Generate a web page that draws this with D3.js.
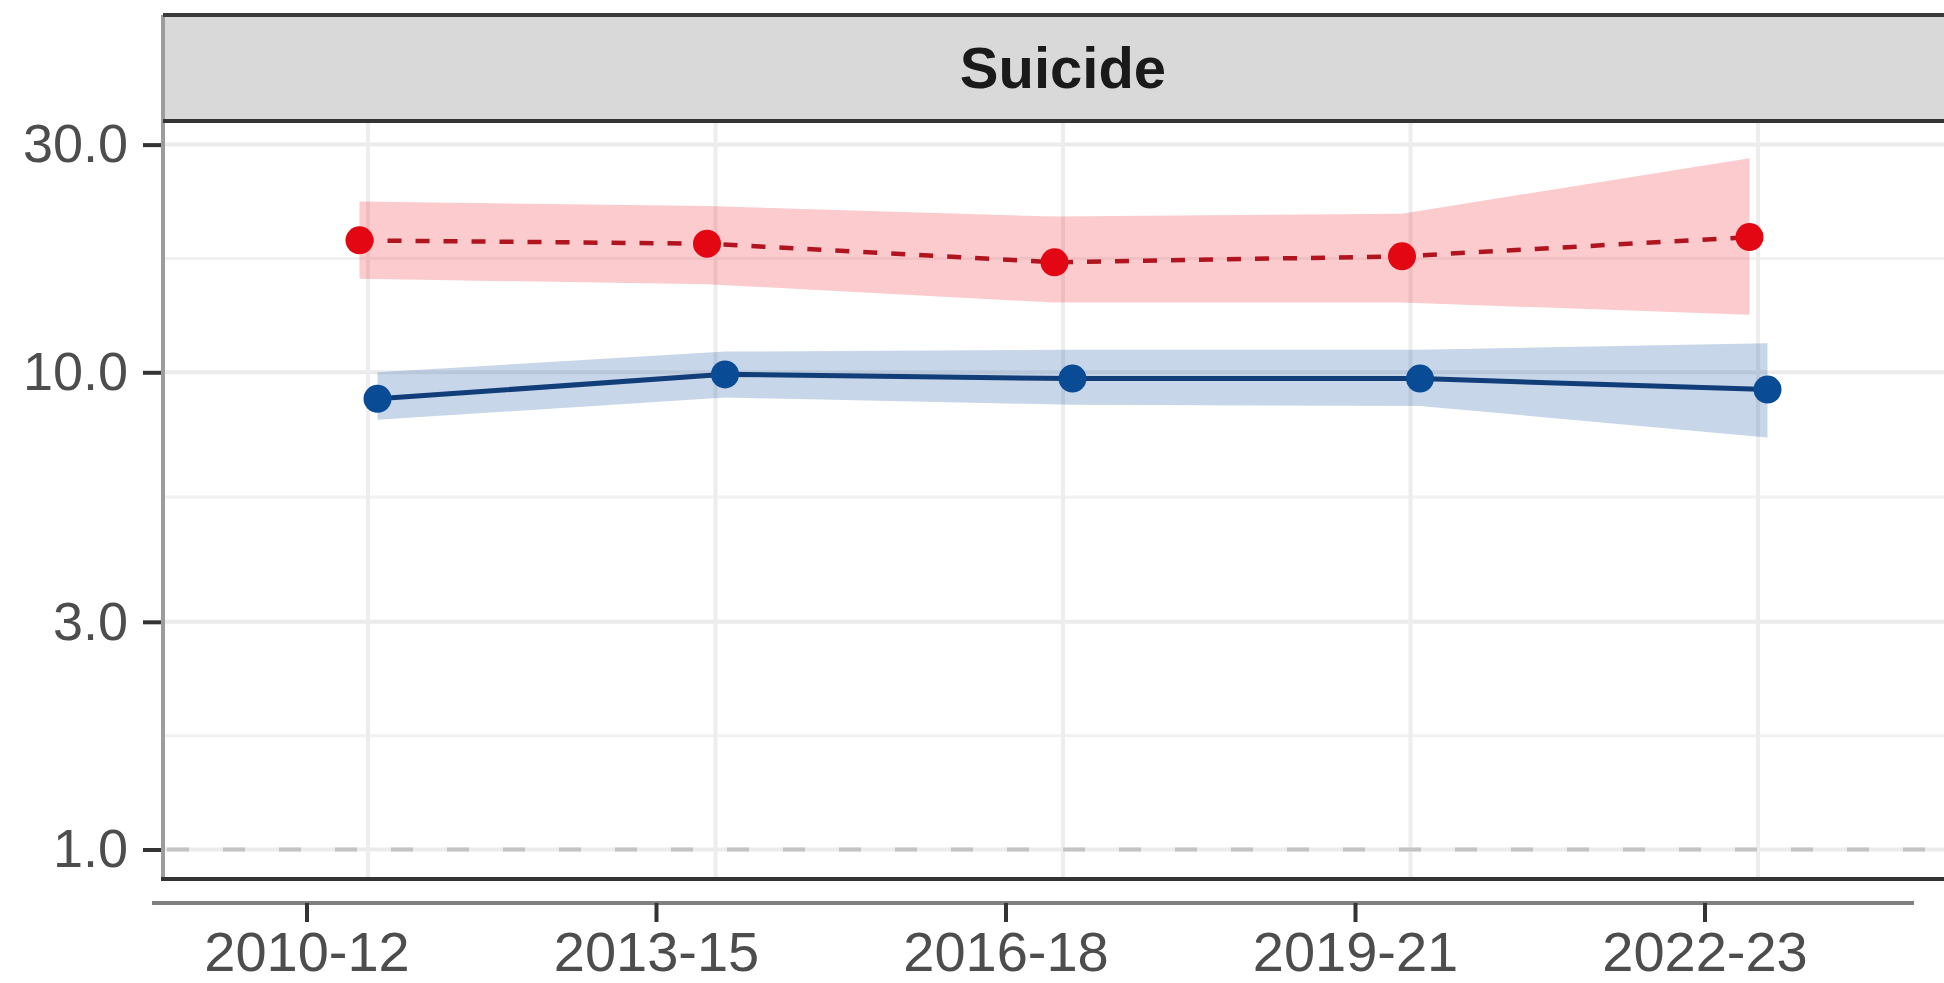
<!DOCTYPE html>
<html><head><meta charset="utf-8">
<script src="https://cdn.jsdelivr.net/npm/d3@7"></script>
<style>html,body{margin:0;padding:0;background:#fff;overflow:hidden}</style>
</head><body><svg id="chart" width="1944" height="983"></svg>
<script>
// ---- data ----
const periods = ["2010-12", "2013-15", "2016-18", "2019-21", "2022-23"];
const redEstimate = [18.9, 18.6, 17.0, 17.5, 19.2];
const redLower    = [15.7, 15.3, 14.0, 14.0, 13.2];
const redUpper    = [22.8, 22.3, 21.2, 21.5, 28.1];
const blueEstimate = [8.8, 9.9, 9.7, 9.7, 9.2];
const blueLower    = [7.95, 8.85, 8.55, 8.5, 7.3];
const blueUpper    = [10.0, 11.05, 11.15, 11.15, 11.5];
const yTicks = [1, 3, 10, 30];
const yMinorTicks = [1.732, 5.477, 17.32];
const panelTitle = "Suicide";
const referenceValue = 1;

// ---- layout ----
const W = 1944, H = 983;
const panel = {left: 163, right: 1963, top: 121, bottom: 879, stripTop: 15};
const font = "'Liberation Sans', Arial, Helvetica, sans-serif";
const svg = d3.select("#chart");

const x = d3.scalePoint().domain(periods).range([panel.left, panel.right]).padding(0.59);
const y = d3.scaleLog().domain([0.8673, 33.62]).range([panel.bottom, panel.top]);
const xAxisScale = d3.scalePoint().domain(periods).range([306.5, 1704.5]);
const dodge = {red: -8.5, blue: 9.5};

svg.append("rect").attr("width", W).attr("height", H).attr("fill", "#fff");

svg.append("clipPath").attr("id", "pclip").append("rect")
  .attr("x", panel.left).attr("y", panel.top)
  .attr("width", W - panel.left).attr("height", panel.bottom - panel.top);

const g = svg.append("g").attr("clip-path", "url(#pclip)");

// minor horizontal gridlines
g.selectAll("line.minor").data(yMinorTicks).join("line")
  .attr("x1", panel.left).attr("x2", panel.right)
  .attr("y1", d => y(d)).attr("y2", d => y(d))
  .attr("stroke", "#f1f1f1").attr("stroke-width", 3);
// major horizontal gridlines
g.selectAll("line.majorY").data(yTicks).join("line")
  .attr("x1", panel.left).attr("x2", panel.right)
  .attr("y1", d => y(d)).attr("y2", d => y(d))
  .attr("stroke", "#ebebeb").attr("stroke-width", 4);
// vertical gridlines
g.selectAll("line.majorX").data(periods).join("line")
  .attr("x1", d => x(d)).attr("x2", d => x(d))
  .attr("y1", panel.top).attr("y2", panel.bottom)
  .attr("stroke", "#ededed").attr("stroke-width", 4);

// reference line at 1
g.append("line")
  .attr("x1", panel.left).attr("x2", panel.right)
  .attr("y1", y(referenceValue)).attr("y2", y(referenceValue))
  .attr("stroke", "#c4c4c4").attr("stroke-width", 4)
  .attr("stroke-dasharray", "22,34").attr("stroke-dashoffset", -4);

function series(est, lo, hi, off) {
  return periods.map((p, i) => ({p, est: est[i], lo: lo[i], hi: hi[i], off}));
}
const redData = series(redEstimate, redLower, redUpper, dodge.red);
const blueData = series(blueEstimate, blueLower, blueUpper, dodge.blue);

const area = d3.area().x(d => x(d.p) + d.off).y0(d => y(d.lo)).y1(d => y(d.hi));
const line = d3.line().x(d => x(d.p) + d.off).y(d => y(d.est));

g.append("path").datum(redData).attr("d", area)
  .attr("fill", "#f0303c").attr("fill-opacity", 0.25);
g.append("path").datum(blueData).attr("d", area)
  .attr("fill", "#1f5aa6").attr("fill-opacity", 0.25);

g.append("path").datum(redData).attr("d", line)
  .attr("fill", "none").attr("stroke", "#b0141f").attr("stroke-width", 4.5)
  .attr("stroke-dasharray", "14,14");
g.append("path").datum(blueData).attr("d", line)
  .attr("fill", "none").attr("stroke", "#113d78").attr("stroke-width", 5);

g.selectAll("circle.red").data(redData).join("circle")
  .attr("cx", d => x(d.p) + d.off).attr("cy", d => y(d.est)).attr("r", 14)
  .attr("fill", "#e30613");
g.selectAll("circle.blue").data(blueData).join("circle")
  .attr("cx", d => x(d.p) + d.off).attr("cy", d => y(d.est)).attr("r", 14)
  .attr("fill", "#0a4b96");

// panel borders
svg.append("line").attr("x1", panel.left).attr("x2", panel.left)
  .attr("y1", panel.stripTop).attr("y2", panel.bottom + 2)
  .attr("stroke", "#9c9c9c").attr("stroke-width", 4);
svg.append("line").attr("x1", panel.left - 2).attr("x2", W)
  .attr("y1", panel.bottom).attr("y2", panel.bottom)
  .attr("stroke", "#333").attr("stroke-width", 4);

// strip
svg.append("rect").attr("x", panel.left + 2).attr("y", panel.stripTop)
  .attr("width", W - panel.left).attr("height", panel.top - panel.stripTop)
  .attr("fill", "#d9d9d9");
svg.append("line").attr("x1", panel.left).attr("x2", W)
  .attr("y1", panel.stripTop).attr("y2", panel.stripTop)
  .attr("stroke", "#3a3a3a").attr("stroke-width", 4);
svg.append("line").attr("x1", panel.left).attr("x2", W)
  .attr("y1", panel.top).attr("y2", panel.top)
  .attr("stroke", "#333").attr("stroke-width", 4);
svg.append("text").attr("x", (panel.left + panel.right) / 2).attr("y", 88)
  .attr("text-anchor", "middle").attr("font-family", font)
  .attr("font-weight", "bold").attr("font-size", 58).attr("fill", "#1a1a1a")
  .text(panelTitle);

// y axis
const yAxis = svg.append("g").attr("transform", `translate(${panel.left - 2},0)`)
  .call(d3.axisLeft(y).tickValues(yTicks).tickFormat(d3.format(".1f"))
    .tickSize(18).tickPadding(15));
yAxis.select(".domain").remove();
yAxis.selectAll(".tick line").attr("stroke", "#333").attr("stroke-width", 4);
yAxis.selectAll(".tick text").attr("font-family", font).attr("font-size", 54)
  .attr("fill", "#4d4d4d");

// x axis (drawn below the panel)
const axisY = 903;
const xAxis = svg.append("g").attr("transform", `translate(0,${axisY})`)
  .call(d3.axisBottom(xAxisScale).tickSize(19).tickPadding(9));
xAxis.select(".domain").remove();
xAxis.insert("line", ":first-child").attr("x1", 152).attr("x2", 1914)
  .attr("y1", 0).attr("y2", 0).attr("stroke", "#808080").attr("stroke-width", 4);
xAxis.selectAll(".tick line").attr("stroke", "#333").attr("stroke-width", 4);
xAxis.selectAll(".tick text").attr("font-family", font).attr("font-size", 56)
  .attr("fill", "#4d4d4d");
</script></body></html>
